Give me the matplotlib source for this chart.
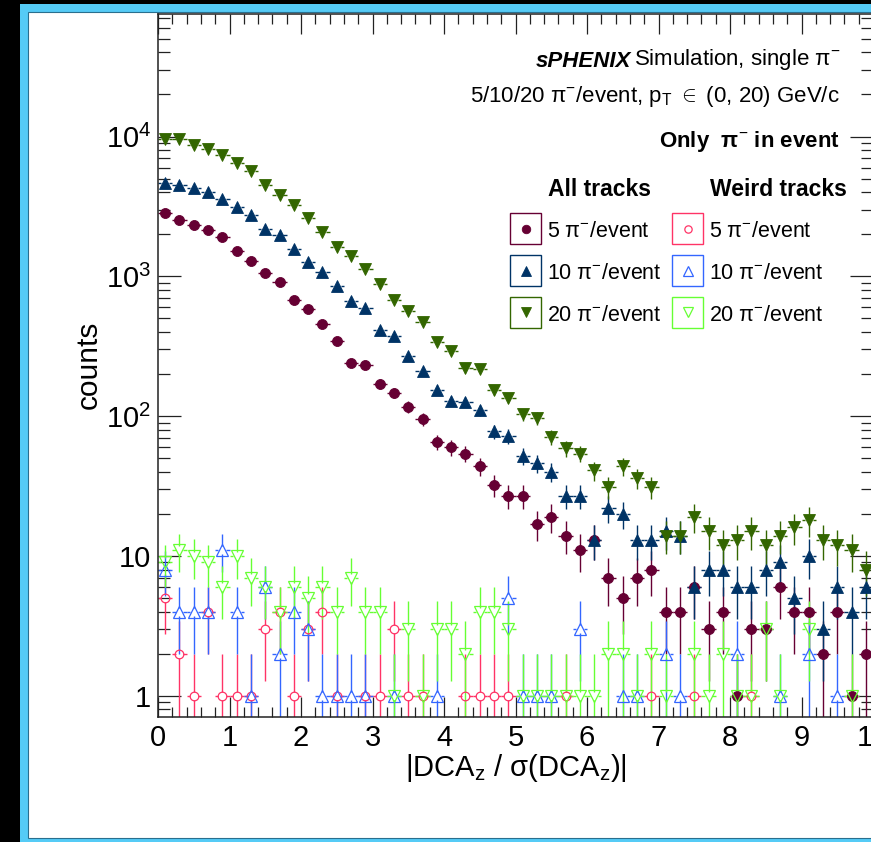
import numpy as np
import matplotlib
matplotlib.use('Agg')
import matplotlib.pyplot as plt
from matplotlib.lines import Line2D
from matplotlib.patches import Rectangle
from matplotlib.collections import LineCollection
from matplotlib.ticker import FixedLocator, FixedFormatter, MultipleLocator, LogLocator, NullFormatter

plt.rcParams['font.family'] = ['Liberation Sans', 'DejaVu Sans']
plt.rcParams['mathtext.fontset'] = 'custom'
plt.rcParams['mathtext.rm'] = 'Liberation Sans'
plt.rcParams['mathtext.it'] = 'Liberation Sans:italic'
plt.rcParams['mathtext.bf'] = 'Liberation Sans:bold'

# ---------------- data ----------------
x_min, x_max, n_bins = 0.0, 10.0, 50

all_5 = [2840, 2540, 2340, 2130, 1910, 1517, 1298, 1060, 908, 682,
         585, 457, 343, 240, 233, 170, 146, 117, 95, 65,
         60, 54, 44, 32, 27, 27, 17, 19, 14, 11,
         13, 7, 5, 7, 8, 4, 4, 6, 3, 4,
         1, 3, 3, 6, 4, 4, 2, 4, 1, 2]
all_10 = [4660, 4530, 4310, 4010, 3590, 3150, 2730, 2190, 1990, 1575,
          1264, 1072, 851, 667, 591, 413, 372, 271, 211, 154,
          129, 127, 110, 78, 72, 52, 46, 40, 27, 27,
          13, 22, 20, 13, 13, 15, 14, 6, 8, 8,
          6, 6, 8, 9, 5, 10, 3, 6, 4, 6]
all_20 = [9680, 9570, 8770, 8110, 7340, 6480, 5640, 4480, 3840, 3260,
          2610, 2070, 1620, 1410, 1120, 880, 679, 567, 470, 338,
          291, 220, 217, 154, 135, 103, 97, 71, 59, 54,
          41, 31, 44, 36, 31, 14, 14, 19, 15, 12,
          13, 15, 12, 14, 16, 18, 13, 12, 11, 8]
weird_5 = [5, 2, 1, 4, 1, 1, 1, 3, 4, 1,
           3, 4, 1, 0, 1, 1, 3, 1, 1, 0,
           0, 1, 1, 1, 1, 0, 0, 0, 1, 0,
           0, 0, 0, 0, 1, 0, 0, 1, 0, 0,
           0, 1, 0, 0, 0, 0, 0, 0, 0, 0]
weird_10 = [8, 4, 4, 4, 11, 4, 1, 6, 2, 4,
            3, 1, 1, 1, 1, 0, 1, 0, 0, 1,
            0, 0, 0, 0, 5, 1, 1, 1, 0, 3,
            0, 0, 1, 1, 0, 2, 1, 0, 0, 0,
            2, 0, 0, 1, 0, 2, 0, 1, 0, 0]
weird_20 = [9, 11, 10, 9, 6, 10, 7, 6, 4, 6,
            5, 6, 4, 7, 4, 4, 1, 3, 1, 3,
            3, 2, 4, 4, 3, 1, 1, 1, 1, 1,
            1, 2, 2, 1, 2, 1, 0, 2, 1, 2,
            1, 1, 3, 1, 0, 3, 0, 0, 1, 0]

legend_labels = ['5 π$^{-}$/event', '10 π$^{-}$/event', '20 π$^{-}$/event']
x_tick_values = [0, 1, 2, 3, 4, 5, 6, 7, 8, 9, 10]
x_tick_labels = ['0', '1', '2', '3', '4', '5', '6', '7', '8', '9', '10']
y_tick_values = [1, 10, 100, 1000, 10000]
y_tick_labels = ['1', '10', '$10^{2}$', '$10^{3}$', '$10^{4}$']

# ---------------- styles ----------------
c_all = ['#660033', '#003366', '#336600']
c_weird = ['#ff3366', '#3366ff', '#66ff33']
m_all = ['o', '^', 'v']
m_weird = ['o', '^', 'v']
ms_all = [7.2, 8.2, 8.2]
ms_weird = [6.2, 8.0, 8.0]

W, H = 871, 842
def fx(px):
    return px / W
def fy(py):
    return 1 - py / H

fig = plt.figure(figsize=(W / 100, H / 100), dpi=100, facecolor='black')
fig.add_artist(Rectangle((fx(20), 0), 1.0, 1 - 4 / H, transform=fig.transFigure,
                         facecolor='#55cbf6', edgecolor='none', zorder=-20))
fig.add_artist(Rectangle((fx(28), fy(838)), 1.0, (838 - 12) / H, transform=fig.transFigure,
                         facecolor='white', edgecolor='#2a6f8e', lw=0.8, zorder=-19))

ax = fig.add_axes([fx(158), fy(717), (873 - 158) / W, (717 - 13.5) / H])
ax.set_facecolor('white')

edges = np.linspace(x_min, x_max, n_bins + 1)
centers = 0.5 * (edges[:-1] + edges[1:])
half = 0.5 * (edges[1] - edges[0])

def draw_series(counts, color, marker, ms, filled):
    counts = np.asarray(counts, float)
    m = counts > 0
    x = centers[m]
    y = counts[m]
    err = np.sqrt(y)
    lo = np.maximum(y - err, 1e-3)
    hi = y + err
    gx = 0.055
    f = 10 ** (4.0 / 139.8)
    segs = []
    for xi, yi, l, h in zip(x, y, lo, hi):
        segs.append([(xi - half, yi), (xi - gx, yi)])
        segs.append([(xi + gx, yi), (xi + half, yi)])
        if yi / f > l:
            segs.append([(xi, l), (xi, yi / f)])
        if yi * f < h:
            segs.append([(xi, yi * f), (xi, h)])
    ax.add_collection(LineCollection(segs, colors=color, linewidths=1.0, zorder=2))
    ax.plot(x, y, ls='none', marker=marker, ms=ms,
            mfc=color if filled else 'none', mec=color,
            mew=0.6 if filled else 0.9, zorder=3)

for cnt, c, mk, ms in zip([all_5, all_10, all_20], c_all, m_all, ms_all):
    draw_series(cnt, c, mk, ms, True)
for cnt, c, mk, ms in zip([weird_5, weird_10, weird_20], c_weird, m_weird, ms_weird):
    draw_series(cnt, c, mk, ms, False)

ax.set_yscale('log')
ax.set_xlim(x_min, x_max)
ax.set_ylim(0.7055, 75900)

ax.xaxis.set_major_locator(FixedLocator(x_tick_values))
ax.xaxis.set_major_formatter(FixedFormatter(x_tick_labels))
ax.xaxis.set_minor_locator(MultipleLocator(0.2))
ax.yaxis.set_major_locator(FixedLocator(y_tick_values))
ax.yaxis.set_major_formatter(FixedFormatter(y_tick_labels))
ax.yaxis.set_minor_locator(LogLocator(base=10, subs=np.arange(2, 10)))
ax.yaxis.set_minor_formatter(NullFormatter())

ax.tick_params(which='both', direction='in', top=True, right=True, color='#222222', width=0.9)
ax.tick_params(axis='both', which='major', labelsize=21)
ax.tick_params(axis='y', which='major', length=16.5, pad=5)
ax.tick_params(axis='y', which='minor', length=8.5)
ax.tick_params(axis='x', which='major', length=14.5, pad=5)
ax.tick_params(axis='x', which='minor', length=7)
for s in ax.spines.values():
    s.set_linewidth(1.1)
    s.set_color('#222222')

ax.set_xlabel(r'|DCA$_{\mathrm{z}}$ / σ(DCA$_{\mathrm{z}}$)|', fontsize=21)
ax.xaxis.set_label_coords(0.5, -0.05)
ax.set_ylabel('counts', fontsize=21.5)
ax.yaxis.set_label_coords(-0.0766, 0.5)

# ---------------- annotations ----------------
t1 = fig.text(fx(840), fy(65), 'Simulation, single π$^{-}$', ha='right', va='baseline', fontsize=16)
ax.annotate('sPHENIX', xy=(0, 0), xycoords=t1, xytext=(-2, 0), textcoords='offset points',
            ha='right', va='bottom', fontsize=16, fontweight='bold', fontstyle='italic')
fig.text(fx(840), fy(102), r'5/10/20 π$^{-}$/event, p$_{\mathrm{T}}\ \in\ $(0, 20) GeV/c',
         ha='right', va='baseline', fontsize=16)
fig.text(fx(840), fy(147), 'Only  π$^{-}$ in event', ha='right', va='baseline',
         fontsize=16, fontweight='bold')

fig.text(fx(599), fy(196), 'All tracks', ha='center', va='baseline', fontsize=16.5, fontweight='bold')
fig.text(fx(778), fy(196), 'Weird tracks', ha='center', va='baseline', fontsize=16.5, fontweight='bold')

row_centers = [228.5, 270.5, 312]
row_baselines = [237, 279, 321]
cols = [(510, c_all, m_all, ms_all, True, 547), (672, c_weird, m_weird, ms_weird, False, 709)]
for bx, colors, markers, sizes, filled, tx in cols:
    for k in range(3):
        yc = row_centers[k]
        fig.add_artist(Rectangle((fx(bx), fy(yc + 15.5)), 31 / W, 31 / H, transform=fig.transFigure,
                                 facecolor='none', edgecolor=colors[k], lw=1.0))
        fig.add_artist(Line2D([fx(bx + 15.5)], [fy(yc)], transform=fig.transFigure, ls='none',
                              marker=markers[k], ms=sizes[k] * 0.85,
                              mfc=colors[k] if filled else 'none', mec=colors[k],
                              mew=0.6 if filled else 0.9))
        fig.text(fx(tx), fy(row_baselines[k]), legend_labels[k], ha='left', va='baseline', fontsize=15.5)

fig.savefig('out.png', dpi=100, facecolor=fig.get_facecolor())
